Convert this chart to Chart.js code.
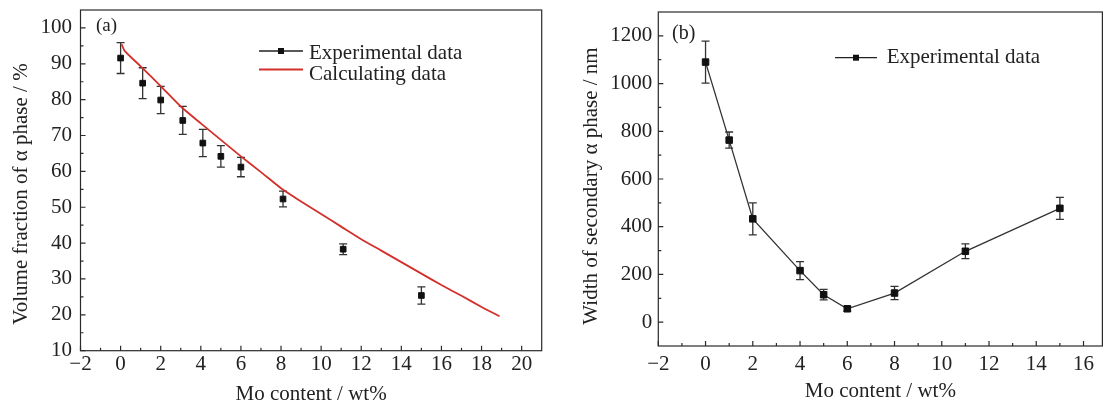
<!DOCTYPE html>
<html>
<head>
<meta charset="utf-8">
<script src="https://cdn.jsdelivr.net/npm/chart.js@4.4.1/dist/chart.umd.min.js"></script>
<style>
html,body{margin:0;padding:0;background:#fff;}
#wrap{position:relative;width:1108px;height:405px;overflow:hidden;}
.box{position:absolute;top:0;height:405px;width:554px;}
</style>
</head>
<body>
<div id="wrap">
  <div class="box" style="left:0"><canvas id="ca"></canvas></div>
  <div class="box" style="left:554px"><canvas id="cb"></canvas></div>
</div>
<script>
// ---------- data (a) ----------
const moA      = [0, 1.1, 2, 3.1, 4.1, 5, 6, 8.1, 11.1, 15];
const fracA    = [91.6, 84.6, 79.9, 74.2, 67.9, 64.2, 61.2, 52.3, 38.3, 25.4];
const fracErrA = [4.3, 4.3, 3.8, 3.9, 3.8, 3.0, 2.7, 2.2, 1.5, 2.4];
const calcMoA   = [0.05, 0.2, 1, 2, 3, 4, 5, 6, 7, 8, 9, 10, 11, 12, 13, 14, 15, 16, 17, 18, 18.9];
const calcFracA = [95.5, 93.6, 89.3, 83.8, 78.1, 73.4, 68.8, 64.2, 59.8, 55.3, 51.6, 48.1, 44.6, 41.1, 37.9, 34.7, 31.5, 28.3, 25.3, 22.2, 19.6];
const xTicksA = [-2, 0, 2, 4, 6, 8, 10, 12, 14, 16, 18, 20];
const yTicksA = [10, 20, 30, 40, 50, 60, 70, 80, 90, 100];
const xMinorA = [-1, 1, 3, 5, 7, 9, 11, 13, 15, 17, 19];
const yMinorA = [15, 25, 35, 45, 55, 65, 75, 85, 95];

// ---------- data (b) ----------
const moB       = [0, 1, 2, 4, 5, 6, 8, 11, 15];
const widthB    = [1090, 763, 433, 216, 115, 56, 122, 297, 477];
const widthErrB = [88, 34, 67, 38, 22, 10, 28, 31, 46];
const xTicksB = [-2, 0, 2, 4, 6, 8, 10, 12, 14, 16];
const yTicksB = [0, 200, 400, 600, 800, 1000, 1200];
const xMinorB = [-1, 1, 3, 5, 7, 9, 11, 13, 15];
const yMinorB = [100, 300, 500, 700, 900, 1100];

const FONT = '"Liberation Serif", "Times New Roman", serif';
const INK = '#222';
const fmt = v => String(v).replace('-', '\u2212');

function decorPlugin(cfg) {
  return {
    id: 'decor',
    beforeDatasetsDraw(chart) {
      const ctx = chart.ctx, ys = chart.scales.y;
      ctx.save();
      ctx.strokeStyle = '#333';
      ctx.lineWidth = 1.3;
      chart.data.datasets.forEach((ds, di) => {
        if (!ds.errors) return;
        const meta = chart.getDatasetMeta(di);
        meta.data.forEach((pt, i) => {
          const v = ds.data[i].y, e = ds.errors[i];
          const y1 = ys.getPixelForValue(v + e), y2 = ys.getPixelForValue(v - e);
          const x = pt.x;
          ctx.beginPath();
          ctx.moveTo(x, y1); ctx.lineTo(x, y2);
          ctx.moveTo(x - 4, y1); ctx.lineTo(x + 4, y1);
          ctx.moveTo(x - 4, y2); ctx.lineTo(x + 4, y2);
          ctx.stroke();
        });
      });
      ctx.restore();
    },
    afterDraw(chart) {
      const ctx = chart.ctx, a = chart.chartArea;
      const xs = chart.scales.x, ys = chart.scales.y;
      ctx.save();
      ctx.strokeStyle = '#2a2a2a';
      ctx.lineWidth = 1.2;
      ctx.strokeRect(a.left, a.top, a.right - a.left, a.bottom - a.top);
      ctx.beginPath();
      cfg.xMajor.forEach(v => { const p = xs.getPixelForValue(v); ctx.moveTo(p, a.bottom); ctx.lineTo(p, a.bottom - 5); });
      cfg.xMinor.forEach(v => { const p = xs.getPixelForValue(v); ctx.moveTo(p, a.bottom); ctx.lineTo(p, a.bottom - 3); });
      cfg.yMajor.forEach(v => { const p = ys.getPixelForValue(v); ctx.moveTo(a.left, p); ctx.lineTo(a.left + 5, p); });
      cfg.yMinor.forEach(v => { const p = ys.getPixelForValue(v); ctx.moveTo(a.left, p); ctx.lineTo(a.left + 3, p); });
      ctx.stroke();
      ctx.fillStyle = INK;
      ctx.textBaseline = 'alphabetic';
      // y-axis title
      ctx.save();
      ctx.font = '21px ' + FONT;
      ctx.translate(cfg.yTitleX, cfg.yTitleY);
      ctx.rotate(-Math.PI / 2);
      ctx.textAlign = 'center';
      ctx.fillText(cfg.yTitle, 0, 0);
      ctx.restore();
      // panel label
      ctx.font = cfg.panelSize + 'px ' + FONT;
      ctx.fillText(cfg.panel, cfg.panelX, cfg.panelY);
      // legend
      ctx.font = '21px ' + FONT;
      cfg.legend.forEach(item => {
        ctx.strokeStyle = item.color;
        ctx.lineWidth = item.lw;
        ctx.beginPath();
        ctx.moveTo(item.x0, item.y); ctx.lineTo(item.x1, item.y);
        ctx.stroke();
        if (item.marker) {
          ctx.fillStyle = '#111';
          ctx.fillRect((item.x0 + item.x1) / 2 - 3, item.y - 3, 6, 6);
        }
        ctx.fillStyle = INK;
        ctx.fillText(item.text, item.tx, item.ty);
      });
      ctx.restore();
    }
  };
}

function axis(opts) {
  return {
    type: 'linear',
    min: opts.min, max: opts.max,
    grid: { display: false, drawTicks: false },
    border: { display: false },
    afterBuildTicks: s => { s.ticks = opts.ticks.map(v => ({ value: v })); },
    afterFit: s => {
      if (opts.width !== undefined) s.width = opts.width;
      if (opts.height !== undefined) s.height = opts.height;
      s.paddingTop = 0; s.paddingBottom = 0; s.paddingLeft = 0; s.paddingRight = 0;
    },
    ticks: {
      autoSkip: false, maxRotation: 0, minRotation: 0,
      padding: opts.tickPad,
      color: INK,
      font: { family: FONT, size: 21, lineHeight: 1 },
      callback: v => fmt(v)
    },
    title: {
      display: !!opts.title, text: opts.title || '', color: INK,
      font: { family: FONT, size: 21, lineHeight: 1 },
      padding: opts.titlePad || 0
    }
  };
}

new Chart(document.getElementById('ca'), {
  type: 'scatter',
  data: {
    datasets: [
      {
        label: 'Experimental data',
        data: moA.map((x, i) => ({ x, y: fracA[i] })),
        errors: fracErrA,
        showLine: false,
        pointStyle: 'rect', pointRadius: 4,
        backgroundColor: '#111', borderColor: '#111', borderWidth: 1
      },
      {
        label: 'Calculating data',
        data: calcMoA.map((x, i) => ({ x, y: calcFracA[i] })),
        showLine: true, pointRadius: 0,
        borderColor: '#d4302b', borderWidth: 1.8, tension: 0.2
      }
    ]
  },
  options: {
    responsive: true, maintainAspectRatio: false, animation: false, devicePixelRatio: 1,
    layout: { padding: { top: 10, right: 12.3, bottom: 0, left: 0 } },
    plugins: { legend: { display: false }, tooltip: { enabled: false } },
    scales: {
      x: axis({ min: -2, max: 21, ticks: xTicksA, height: 54.3, tickPad: 3, title: 'Mo content / wt%', titlePad: { top: 0, bottom: 0 } }),
      y: axis({ min: 10, max: 105, ticks: yTicksA, width: 80.5, tickPad: 8.5 })
    }
  },
  plugins: [decorPlugin({
    xMajor: xTicksA, xMinor: xMinorA, yMajor: yTicksA, yMinor: yMinorA,
    yTitle: 'Volume fraction of \u03b1 phase / %', yTitleX: 27.4, yTitleY: 194,
    panel: '(a)', panelSize: 19, panelX: 96, panelY: 31,
    legend: [
      { text: 'Experimental data', color: '#222', lw: 1.3, marker: true, x0: 259, x1: 303, y: 51, tx: 309, ty: 58.5 },
      { text: 'Calculating data', color: '#d4302b', lw: 1.8, marker: false, x0: 259, x1: 303, y: 69.5, tx: 309, ty: 80 }
    ]
  })]
});

new Chart(document.getElementById('cb'), {
  type: 'scatter',
  data: {
    datasets: [
      {
        label: 'Experimental data',
        data: moB.map((x, i) => ({ x, y: widthB[i] })),
        errors: widthErrB,
        showLine: true,
        pointStyle: 'rect', pointRadius: 4.6,
        backgroundColor: '#111', borderColor: '#333', borderWidth: 1.3,
        pointBorderColor: '#111', pointBorderWidth: 1
      }
    ]
  },
  options: {
    responsive: true, maintainAspectRatio: false, animation: false, devicePixelRatio: 1,
    layout: { padding: { top: 12, right: 1, bottom: 0, left: 0 } },
    plugins: { legend: { display: false }, tooltip: { enabled: false } },
    scales: {
      x: axis({ min: -2, max: 16.8, ticks: xTicksB, height: 59, tickPad: 8, title: 'Mo content / wt%', titlePad: { top: 0, bottom: 3.5 } }),
      y: axis({ min: -100, max: 1300, ticks: yTicksB, width: 104.3, tickPad: 6 })
    }
  },
  plugins: [decorPlugin({
    xMajor: xTicksB, xMinor: xMinorB, yMajor: yTicksB, yMinor: yMinorB,
    yTitle: 'Width of secondary \u03b1 phase / nm', yTitleX: 43.4, yTitleY: 186,
    panel: '(b)', panelSize: 20, panelX: 118, panelY: 39,
    legend: [
      { text: 'Experimental data', color: '#222', lw: 1.3, marker: true, x0: 281, x1: 323, y: 57.7, tx: 332.7, ty: 62.5 }
    ]
  })]
});
</script>
</body>
</html>
